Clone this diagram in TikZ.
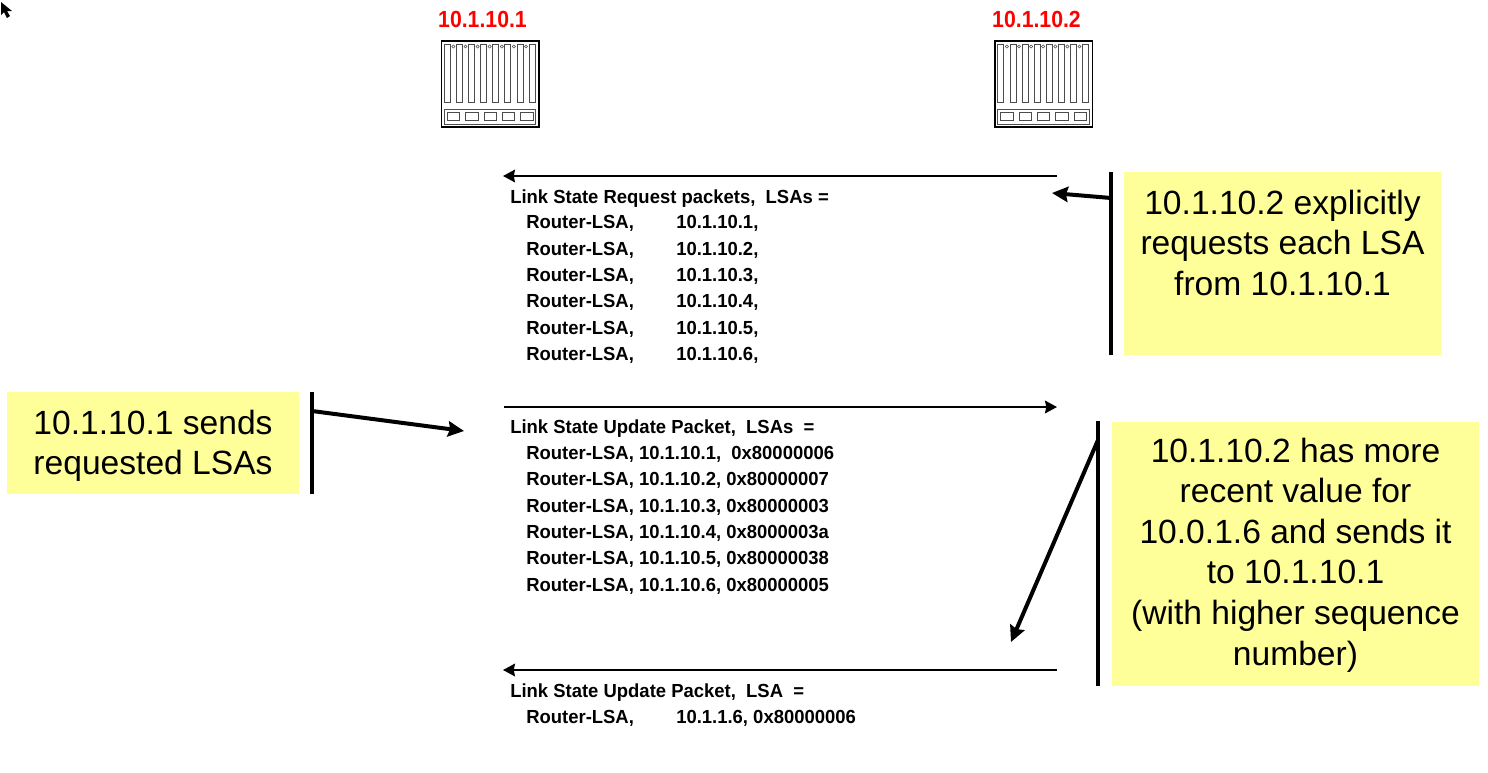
\documentclass[tikz,border=0pt]{standalone}
\usepackage{fontspec}
\setmainfont{Liberation Sans}
\newfontfamily\pktfont[FakeStretch=0.975]{Liberation Sans Bold}
\newfontfamily\addrfont[FakeStretch=0.91]{Liberation Sans Bold}
\usepackage{xcolor}
\usetikzlibrary{arrows.meta}
\definecolor{notefill}{HTML}{FFFF99}
\tikzset{
  msg/.style={line width=1.6pt, -{Stealth[length=9pt,width=9.5pt,inset=1pt]}},
  pointer/.style={line width=3pt, -{Stealth[length=12pt,width=11.5pt,inset=1.5pt]}},
  bar/.style={line width=3pt},
  note/.style={fill=notefill, inner sep=0pt, align=center, font=\fontsize{25.2pt}{30.2pt}\selectfont},
  pkt/.style={anchor=north west, inner sep=0pt, align=left, font=\fontsize{14.2pt}{19.75pt}\pktfont},
  addr/.style={text=red, font=\fontsize{17.5pt}{19pt}\addrfont},
  router/.pic={
    \draw [line width=1.1pt, fill=white] (0,0) rectangle (97.5,86);
    \foreach \k in {0,...,7} {
      \draw [line width=0.5pt, black!70] (2.8+12.1*\k,3) rectangle ++(6,58);
    }
    \foreach \k in {1,...,7} {
      \draw [line width=0.4pt, black!70] (-0.2+12.1*\k,5.5) circle [radius=1.6];
    }
    \draw [line width=0.5pt, black!70] (2.8,68) rectangle (94,83);
    \foreach \k in {0,...,4} {
      \draw [line width=0.5pt, black!70] (5.8+18.3*\k,71.5) rectangle ++(12.4,8);
    }
  }
}

\begin{document}
\begin{tikzpicture}[x=0.75pt,y=-0.75pt]
\useasboundingbox (0,0) rectangle (1488,772);
% pointer in the corner
\fill [black] (1,2) -- (1,15) -- (4,12) -- (7,18) -- (10,16) -- (7,11) -- (12,11) -- cycle;

% routers
\node [addr] (lbl1) at (482.5,19) {10.1.10.1};
\node [addr] (lbl2) at (1036.5,19) {10.1.10.2};
\pic at (441.5,41) {router};
\pic at (995,41) {router};

% message lines
\coordinate (m1r) at (1057,176);
\coordinate (m1l) at (503,176);
\coordinate (m2l) at (504,407);
\coordinate (m2r) at (1057,407);
\coordinate (m3r) at (1057,670);
\coordinate (m3l) at (503,670);
\draw [msg] (m1r) -- (m1l);
\draw [msg] (m2l) -- (m2r);
\draw [msg] (m3r) -- (m3l);

% packet texts
\node [pkt] (reqhead) at (510,189.5) {Link State Request packets,\ \ LSAs =};
\node [pkt] (reqtype) at (526,215.5) {Router-LSA,\\Router-LSA,\\Router-LSA,\\Router-LSA,\\Router-LSA,\\Router-LSA,};
\node [pkt] (reqid) at (676,215.5) {10.1.10.1,\\10.1.10.2,\\10.1.10.3,\\10.1.10.4,\\10.1.10.5,\\10.1.10.6,};
\node [pkt] (updhead) at (510,419.5) {Link State Update Packet,\ \ LSAs\ \ =};
\node [pkt] (updlist) at (526,446) {Router-LSA, 10.1.10.1,\ \ 0x80000006\\Router-LSA, 10.1.10.2, 0x80000007\\Router-LSA, 10.1.10.3, 0x80000003\\Router-LSA, 10.1.10.4, 0x8000003a\\Router-LSA, 10.1.10.5, 0x80000038\\Router-LSA, 10.1.10.6, 0x80000005};
\node [pkt] (lasthead) at (510,684) {Link State Update Packet,\ \ LSA\ \ =};
\node [pkt] (lasttype) at (526,710) {Router-LSA,};
\node [pkt] (lastid) at (676,710) {10.1.1.6, 0x80000006};

% yellow notes
\node [note, minimum width=317*0.75pt, minimum height=183*0.75pt] (note1) at (1282.5,263.5) {10.1.10.2 explicitly\\requests each LSA\\from 10.1.10.1\\[1pt] \mbox{}};
\node [note, minimum width=292*0.75pt, minimum height=102*0.75pt] (note2) at (153,443) {\rule{0pt}{23pt}10.1.10.1 sends\\requested LSAs};
\node [note, minimum width=367*0.75pt, minimum height=264*0.75pt] (note3) at (1295.5,554) {\rule{0pt}{20pt}10.1.10.2 has more\\recent value for\\10.0.1.6 and sends it\\to 10.1.10.1\\[0.5pt](with higher sequence\\[0.5pt]number)};

% bars and their arrows
\coordinate (b1t) at (1111,172);
\coordinate (b1b) at (1111,355);
\coordinate (b1o) at (1111,198);
\coordinate (t1) at (1052,193);
\draw [bar] (b1t) -- (b1b);
\draw [pointer] (b1o) -- (t1);
\coordinate (b2t) at (312,392);
\coordinate (b2b) at (312,494);
\coordinate (b2o) at (312,411);
\coordinate (t2) at (464,431);
\draw [bar] (b2t) -- (b2b);
\draw [pointer] (b2o) -- (t2);
\coordinate (b3t) at (1098,421);
\coordinate (b3b) at (1098,686);
\coordinate (b3o) at (1098,440);
\coordinate (t3) at (1011,642);
\draw [bar] (b3t) -- (b3b);
\draw [pointer] (b3o) -- (t3);
\end{tikzpicture}
\end{document}
